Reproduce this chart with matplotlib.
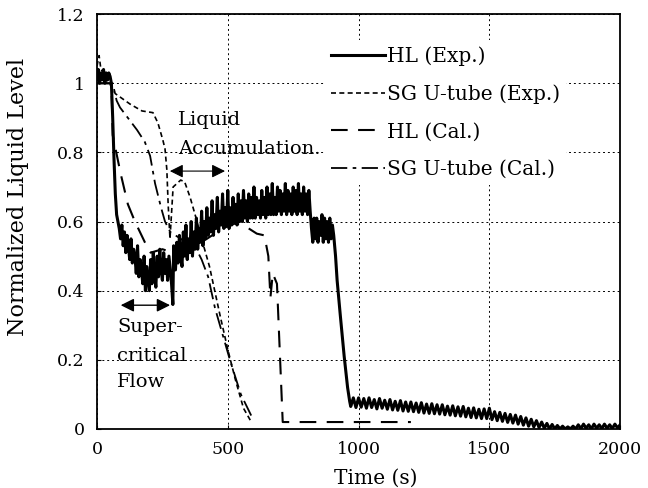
import matplotlib
matplotlib.use('Agg')
import matplotlib.pyplot as plt

hl_exp_t = [0, 5, 10, 15, 20, 25, 30, 35, 40, 45, 50, 55, 60, 65, 70, 75, 80,
            85, 90, 95, 100, 105, 110, 115, 120, 125, 130, 135, 140, 145, 150, 155, 160, 165,
            170, 175, 180, 185, 190, 195, 200, 205, 210, 215, 220, 225, 230, 235, 240, 245,
            250, 255, 260, 265, 270, 275, 280, 285, 290, 293,
            300, 305, 310, 315, 320, 325, 330, 335, 340, 345, 350, 355, 360, 365, 370, 375,
            380, 385, 390, 395, 400, 405, 410, 415, 420, 425, 430, 435, 440, 445, 450, 455,
            460, 465, 470, 475, 480, 485, 490, 495, 500, 505, 510, 515, 520, 525, 530, 535,
            540, 545, 550, 555, 560, 565, 570, 575, 580, 585, 590, 595, 600, 605, 610, 615,
            620, 625, 630, 635, 640, 645, 650, 655, 660, 665, 670, 675, 680, 685, 690, 695,
            700, 705, 710, 715, 720, 725, 730, 735, 740, 745, 750, 755, 760, 765, 770, 775,
            780, 785, 790, 795, 800, 805, 810, 815, 820,
            825, 830, 835, 840, 845, 850, 855, 860, 865, 870, 875, 880, 885, 890, 895, 900, 905,
            912, 918, 930, 945, 958, 966,
            970, 980, 990, 1000, 1010, 1020, 1030, 1040, 1050, 1060, 1070, 1080, 1090, 1100,
            1110, 1120, 1130, 1140, 1150, 1160, 1170, 1180, 1190, 1200, 1210, 1220, 1230, 1240,
            1250, 1260, 1270, 1280, 1290, 1300, 1310, 1320, 1330, 1340, 1350, 1360, 1370, 1380,
            1390, 1400, 1410, 1420, 1430, 1440, 1450, 1460, 1470, 1480, 1490, 1500, 1510, 1520,
            1530, 1540, 1550, 1560, 1570, 1580, 1590, 1600, 1610, 1620, 1630, 1640, 1650, 1660,
            1670, 1680, 1690, 1700, 1710, 1720, 1730, 1740, 1750, 1760, 1770, 1780, 1790, 1800,
            1810, 1820, 1830, 1840, 1850, 1860, 1870, 1880, 1890, 1900, 1910, 1920, 1930, 1940,
            1950, 1960, 1970, 1980, 1990, 2000]
hl_exp = [1.01, 1.04, 1.00, 1.03, 1.01, 1.04, 1.00, 1.03, 1.01, 1.03, 1.02, 1.00, 0.90, 0.78, 0.68, 0.62, 0.60,
          0.58, 0.55, 0.59, 0.53, 0.57, 0.51, 0.56, 0.53, 0.49, 0.55, 0.48, 0.52, 0.50, 0.45, 0.53, 0.44, 0.49,
          0.46, 0.42, 0.50, 0.40, 0.47, 0.43, 0.40, 0.49, 0.42, 0.51, 0.45, 0.41, 0.50, 0.44, 0.52, 0.46,
          0.43, 0.51, 0.45, 0.49, 0.43, 0.50, 0.46, 0.42, 0.36, 0.53,
          0.46, 0.54, 0.48, 0.56, 0.50, 0.47, 0.57, 0.50, 0.59, 0.49, 0.55, 0.51, 0.60, 0.50, 0.57, 0.52,
          0.61, 0.52, 0.58, 0.54, 0.63, 0.53, 0.60, 0.55, 0.64, 0.56, 0.61, 0.57, 0.66, 0.56, 0.62, 0.58,
          0.67, 0.57, 0.63, 0.59, 0.68, 0.58, 0.64, 0.59, 0.69, 0.58, 0.64, 0.59, 0.67, 0.60, 0.65, 0.59,
          0.68, 0.60, 0.66, 0.60, 0.69, 0.61, 0.66, 0.60, 0.68, 0.61, 0.67, 0.61, 0.70, 0.61, 0.67, 0.62,
          0.66, 0.61, 0.69, 0.62, 0.67, 0.61, 0.70, 0.62, 0.68, 0.62, 0.71, 0.62, 0.67, 0.62, 0.70, 0.63,
          0.69, 0.62, 0.68, 0.63, 0.71, 0.62, 0.69, 0.63, 0.68, 0.62, 0.70, 0.63, 0.69, 0.62, 0.71, 0.63,
          0.68, 0.62, 0.70, 0.63, 0.68, 0.62, 0.69, 0.63, 0.58,
          0.54, 0.61, 0.55, 0.61, 0.54, 0.60, 0.56, 0.62, 0.54, 0.61, 0.55, 0.60, 0.54, 0.61, 0.55, 0.59, 0.56,
          0.50, 0.43, 0.33, 0.21, 0.12, 0.08,
          0.065, 0.09, 0.062, 0.09, 0.063, 0.088, 0.06, 0.09, 0.062, 0.085, 0.058, 0.088, 0.06, 0.083,
          0.057, 0.085, 0.055, 0.08, 0.054, 0.082, 0.052, 0.078, 0.051, 0.078, 0.05, 0.075, 0.048, 0.076,
          0.046, 0.072, 0.045, 0.073, 0.044, 0.07, 0.043, 0.07, 0.041, 0.066, 0.04, 0.067, 0.038, 0.064,
          0.037, 0.065, 0.035, 0.06, 0.033, 0.061, 0.032, 0.057, 0.03, 0.058, 0.03, 0.06, 0.027, 0.05,
          0.024, 0.048, 0.022, 0.045, 0.019, 0.042, 0.017, 0.04, 0.014, 0.036, 0.011, 0.032, 0.008, 0.028,
          0.006, 0.024, 0.004, 0.02, 0.002, 0.016, 0.0, 0.013, 0.0, 0.01, 0.0, 0.008, 0.0, 0.006,
          0.0, 0.008, 0.0, 0.012, 0.001, 0.014, 0.002, 0.012, 0.0, 0.014, 0.002, 0.012, 0.001, 0.014,
          0.002, 0.012, 0.001, 0.014, 0.003, 0.012]

# SG U-tube (Exp.)
sg_exp_t = [0, 8, 15, 25, 40, 55, 70, 126, 172, 214, 233, 252, 260, 267, 272, 279, 291,
            320, 335, 356, 375, 400, 430, 470, 500, 530, 560, 590]
sg_exp = [1.05, 1.08, 1.04, 1.03, 1.01, 0.99, 0.97, 0.94, 0.92, 0.915, 0.885, 0.835, 0.81, 0.75, 0.65, 0.55, 0.70,
          0.72, 0.715, 0.67, 0.62, 0.55, 0.47, 0.33, 0.23, 0.14, 0.06, 0.02]

# HL (Cal.)
hl_cal_t = [0, 55, 60, 90, 118, 145, 183, 205, 250, 290, 350, 420, 480, 530, 580, 611, 640,
            655, 663, 672, 688, 710, 1200]
hl_cal = [1.0, 1.0, 0.85, 0.74, 0.65, 0.60, 0.54, 0.51, 0.52, 0.51, 0.52, 0.55, 0.58, 0.595, 0.58, 0.565, 0.56,
          0.50, 0.38, 0.45, 0.42, 0.02, 0.02]

# SG U-tube (Cal.)
sg_cal_t = [0, 60, 75, 88, 153, 183, 203, 222, 245, 260, 280, 320, 380, 400, 425, 451, 508, 550, 592]
sg_cal = [1.0, 1.0, 0.95, 0.93, 0.865, 0.83, 0.79, 0.71, 0.64, 0.60, 0.57, 0.55, 0.52, 0.49, 0.44, 0.35,
          0.20, 0.10, 0.035]

x_ticks = [0, 500, 1000, 1500, 2000]
y_ticks = [0, 0.2, 0.4, 0.6, 0.8, 1.0, 1.2]
y_tick_labels = ['0', '0.2', '0.4', '0.6', '0.8', '1', '1.2']

plt.rcParams['font.family'] = ['DejaVu Serif']

fig = plt.figure(figsize=(6.48, 4.88), dpi=100)
ax = fig.add_axes([0.1497, 0.121, 0.8073, 0.850])

ax.plot(hl_exp_t, hl_exp, color='black', lw=2.2, label='HL (Exp.)')
ax.plot(sg_exp_t, sg_exp, color='black', lw=1.2, linestyle=(0, (3, 2)), label='SG U-tube (Exp.)')
ax.plot(hl_cal_t, hl_cal, color='black', lw=1.5, linestyle=(0, (8, 5)), label='HL (Cal.)')
ax.plot(sg_cal_t, sg_cal, color='black', lw=1.3, linestyle=(0, (9, 3, 2, 3)), label='SG U-tube (Cal.)')

ax.set_xlim(0, 2000)
ax.set_ylim(0, 1.2)
ax.set_xticks(x_ticks)
ax.set_yticks(y_ticks)
ax.set_yticklabels(y_tick_labels)
ax.tick_params(direction='in', length=3, labelsize=12.5, pad=9)
ax.grid(True, color='black', linestyle=(0, (2, 3)), lw=0.7)
for s in ax.spines.values():
    s.set_linewidth(1.3)

ax.set_xlabel('Time (s)', fontsize=14.5)
ax.xaxis.set_label_coords(0.533, -0.095)
ax.set_ylabel('Normalized Liquid Level', fontsize=16)
ax.yaxis.set_label_coords(-0.13, 0.56)

leg = ax.legend(loc='upper left', bbox_to_anchor=(0.416, 0.962), fontsize=14.5, frameon=True,
                handlelength=2.7, handletextpad=0.1, labelspacing=0.92, borderpad=0.3)
leg.get_frame().set_edgecolor('none')
leg.get_frame().set_facecolor('white')
leg.get_frame().set_alpha(1)

# annotations
ax.text(310, 0.895, 'Liquid', fontsize=14, va='center', ha='left')
ax.text(310, 0.81, 'Accumulation.', fontsize=14, va='center', ha='left')
ax.annotate('', xy=(500, 0.746), xytext=(268, 0.746),
            arrowprops=dict(arrowstyle='<|-|>', color='black', lw=0.8, mutation_scale=20))

ax.annotate('', xy=(290, 0.358), xytext=(80, 0.358),
            arrowprops=dict(arrowstyle='<|-|>', color='black', lw=1.0, mutation_scale=20))
ax.text(76, 0.295, 'Super-', fontsize=14, va='center', ha='left')
ax.text(76, 0.212, 'critical', fontsize=14, va='center', ha='left')
ax.text(76, 0.136, 'Flow', fontsize=14, va='center', ha='left')

fig.savefig('out.png', dpi=100)
